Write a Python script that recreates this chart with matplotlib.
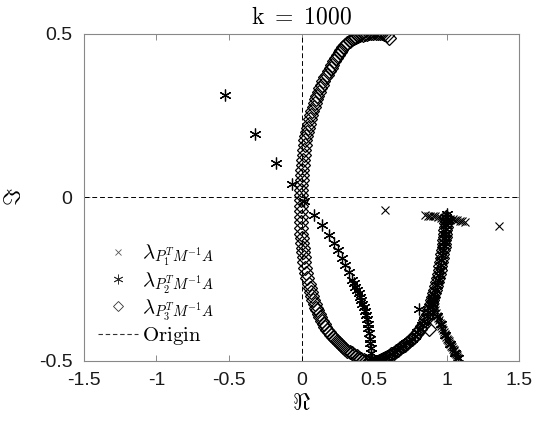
import matplotlib
matplotlib.use("Agg")
import matplotlib.pyplot as plt
from matplotlib.lines import Line2D

plt.rcParams['font.family'] = ['Liberation Sans', 'DejaVu Sans']
plt.rcParams['mathtext.fontset'] = 'cm'

# eigenvalues of P1^T M^-1 A (real, imag)
p1_re = [0.576, 0.852, 0.870, 0.886, 0.905, 0.921, 0.940, 0.960, 0.980, 1.000, 1.020,
         1.040, 1.055, 1.070, 1.088, 1.105, 1.127, 1.357,
         0.900, 0.905, 0.910, 0.915, 0.920, 0.926, 0.932, 0.938, 0.945, 0.951, 0.957,
         0.962, 0.967, 0.972, 0.978, 0.984, 0.990, 0.996, 1.002, 1.008, 1.013, 1.018,
         1.024, 1.030, 1.035, 1.040, 1.046, 1.052, 1.057, 1.062, 1.068, 1.073, 1.078]
p1_im = [-0.038, -0.055, -0.056, -0.057, -0.058, -0.058, -0.060, -0.062, -0.063, -0.064, -0.066,
         -0.068, -0.069, -0.070, -0.072, -0.072, -0.075, -0.089,
         -0.310, -0.319, -0.328, -0.336, -0.345, -0.354, -0.362, -0.369, -0.376, -0.383, -0.389,
         -0.395, -0.400, -0.405, -0.411, -0.417, -0.422, -0.428, -0.433, -0.437, -0.441, -0.445,
         -0.450, -0.455, -0.459, -0.463, -0.467, -0.471, -0.475, -0.479, -0.483, -0.487, -0.490]

# eigenvalues of P2^T M^-1 A
p2_re = [-0.525, -0.319, -0.175, -0.066, 0.014, 0.083, 0.140, 0.186, 0.220, 0.248, 0.278,
         0.301, 0.324, 0.347, 0.358, 0.370, 0.382, 0.393, 0.402, 0.411, 0.419, 0.427, 0.435,
         0.443, 0.449, 0.455, 0.460, 0.464, 0.469, 0.473, 0.477, 0.480, 0.484, 0.487,
         0.806,
         0.505, 0.520, 0.540, 0.560, 0.580, 0.600, 0.620, 0.640, 0.660, 0.680, 0.700, 0.720,
         0.740, 0.760, 0.778, 0.795, 0.812, 0.830, 0.845, 0.860, 0.873, 0.886, 0.896, 0.905,
         0.913, 0.921, 0.929, 0.936, 0.944, 0.951, 0.957, 0.963, 0.969, 0.974, 0.978, 0.982,
         0.985, 0.988, 0.991, 0.993, 0.995, 0.997, 0.998,
         0.905, 0.932, 0.957, 0.990, 1.024, 1.057, 1.078]
p2_im = [0.314, 0.192, 0.105, 0.039, -0.011, -0.055, -0.085, -0.114, -0.141, -0.162, -0.187,
         -0.208, -0.228, -0.253, -0.263, -0.274, -0.284, -0.294, -0.304, -0.314, -0.325, -0.335, -0.347,
         -0.360, -0.373, -0.386, -0.401, -0.416, -0.432, -0.447, -0.462, -0.477, -0.492, -0.505,
         -0.343,
         -0.505, -0.502, -0.498, -0.494, -0.489, -0.484, -0.479, -0.473, -0.468, -0.462, -0.455, -0.447,
         -0.440, -0.432, -0.423, -0.413, -0.403, -0.392, -0.378, -0.364, -0.350, -0.335, -0.323, -0.310,
         -0.297, -0.284, -0.269, -0.254, -0.238, -0.223, -0.207, -0.192, -0.177, -0.162, -0.149, -0.136,
         -0.124, -0.111, -0.098, -0.086, -0.073, -0.060, -0.050,
         -0.318, -0.362, -0.389, -0.422, -0.450, -0.475, -0.490]

# eigenvalues of P3^T M^-1 A
p3_re = [0.600, 0.585, 0.570, 0.555, 0.540, 0.525, 0.510, 0.495, 0.480, 0.465, 0.450,
         0.435, 0.420, 0.405, 0.390, 0.375, 0.360, 0.345, 0.330, 0.315, 0.300, 0.287,
         0.274, 0.261, 0.248, 0.236, 0.224, 0.212, 0.200, 0.189, 0.178, 0.163, 0.150,
         0.139, 0.128, 0.117, 0.108, 0.100, 0.091, 0.083, 0.074, 0.065, 0.056, 0.048,
         0.042, 0.036, 0.030, 0.025, 0.021, 0.017, 0.014, 0.010, 0.007, 0.005, 0.002,
         0.000, -0.001, -0.001, -0.002, -0.002, -0.003, -0.003, -0.003, -0.003, -0.002,
         -0.002, 0.001, 0.004, 0.007, 0.010, 0.014, 0.019, 0.025, 0.031, 0.039, 0.048,
         0.055, 0.063, 0.072, 0.081, 0.091, 0.100, 0.106, 0.117, 0.128, 0.139, 0.151,
         0.163, 0.175, 0.188, 0.201, 0.214, 0.228, 0.241, 0.255, 0.270, 0.285, 0.301,
         0.316, 0.332, 0.347, 0.363, 0.379, 0.395, 0.411, 0.427, 0.442, 0.456, 0.471,
         0.485,
         0.500, 0.515, 0.530, 0.545, 0.560, 0.574, 0.588, 0.603, 0.618, 0.634, 0.649,
         0.665, 0.680, 0.695, 0.711, 0.726, 0.741, 0.757, 0.772, 0.786, 0.800, 0.813,
         0.827, 0.840, 0.850, 0.859, 0.868, 0.877, 0.886, 0.893, 0.900, 0.907, 0.914,
         0.921, 0.927, 0.933, 0.939, 0.945, 0.951, 0.956, 0.961, 0.965, 0.970, 0.974,
         0.977, 0.980, 0.982, 0.985, 0.988, 0.990, 0.992, 0.994, 0.996, 0.997,
         0.875]
p3_im = [0.488, 0.495, 0.499, 0.501, 0.502, 0.502, 0.502, 0.502, 0.501, 0.501, 0.500,
         0.499, 0.497, 0.495, 0.493, 0.490, 0.487, 0.483, 0.478, 0.472, 0.466, 0.459,
         0.451, 0.443, 0.434, 0.425, 0.415, 0.405, 0.395, 0.385, 0.374, 0.367, 0.355,
         0.344, 0.333, 0.322, 0.310, 0.299, 0.287, 0.276, 0.263, 0.250, 0.238, 0.225,
         0.212, 0.199, 0.187, 0.174, 0.159, 0.144, 0.128, 0.113, 0.098, 0.083, 0.067,
         0.052, 0.037, 0.022, 0.006, -0.009, -0.026, -0.043, -0.060, -0.077, -0.094,
         -0.111, -0.125, -0.140, -0.154, -0.168, -0.182, -0.198, -0.215, -0.232, -0.248, -0.264,
         -0.277, -0.290, -0.303, -0.315, -0.327, -0.339, -0.345, -0.356, -0.366, -0.377, -0.387,
         -0.396, -0.406, -0.413, -0.421, -0.428, -0.434, -0.441, -0.447, -0.453, -0.459, -0.464,
         -0.469, -0.473, -0.477, -0.482, -0.486, -0.490, -0.494, -0.498, -0.501, -0.503, -0.505,
         -0.506,
         -0.506, -0.504, -0.501, -0.498, -0.495, -0.492, -0.488, -0.484, -0.480, -0.476, -0.471,
         -0.467, -0.462, -0.456, -0.451, -0.445, -0.439, -0.433, -0.427, -0.419, -0.411, -0.403,
         -0.394, -0.386, -0.376, -0.366, -0.356, -0.345, -0.335, -0.325, -0.315, -0.305, -0.294,
         -0.284, -0.272, -0.260, -0.247, -0.235, -0.223, -0.211, -0.199, -0.186, -0.174, -0.162,
         -0.152, -0.142, -0.131, -0.121, -0.111, -0.101, -0.091, -0.080, -0.070, -0.060,
         -0.404]

labels = [r'$\lambda_{P_1^T M^{-1} A}$', r'$\lambda_{P_2^T M^{-1} A}$',
          r'$\lambda_{P_3^T M^{-1} A}$', r'$\mathrm{Origin}$']

fig = plt.figure(figsize=(5.4, 4.21), dpi=100)
ax = fig.add_axes([0.155, 0.143, 0.807, 0.777])

ax.plot(p3_re, p3_im, linestyle='none', marker='D', ms=7.5, mew=0.9, mfc='none', mec='k')
ax.plot(p2_re, p2_im, linestyle='none', marker=(6, 2, 0), ms=8.5, mew=0.9, color='k')
ax.plot(p1_re, p1_im, linestyle='none', marker='x', ms=6, mew=0.8, color='k')
ax.axhline(0, color='k', ls='--', lw=0.7, dashes=(5, 3))
ax.axvline(0, color='k', ls='--', lw=0.7, dashes=(5, 3))

ax.set_xlim(-1.5, 1.5)
ax.set_ylim(-0.5, 0.5)
ax.set_xticks([-1.5, -1, -0.5, 0, 0.5, 1, 1.5])
ax.set_xticklabels(['-1.5', '-1', '-0.5', '0', '0.5', '1', '1.5'])
ax.set_yticks([-0.5, 0, 0.5])
ax.set_yticklabels(['-0.5', '0', '0.5'])
ax.tick_params(direction='in', top=True, right=True, length=4, width=0.6, pad=8,
               colors='#777777', labelcolor='#1a1a1a', labelsize=14)
for s in ax.spines.values():
    s.set_color('#888888')
    s.set_linewidth(0.8)

ax.set_title(r'$\mathrm{k}\ =\ 1000$', fontsize=17, pad=7)
ax.set_xlabel(r'$\Re$', fontsize=17, labelpad=2)
ax.set_ylabel(r'$\Im$', fontsize=17, labelpad=10)

handles = [Line2D([], [], ls='none', marker='x', ms=5, mew=0.6, color='#555555'),
           Line2D([], [], ls='none', marker=(6, 2, 0), ms=7, mew=0.6, color='#333333'),
           Line2D([], [], ls='none', marker='D', ms=5, mew=0.6, mfc='none', mec='#333333'),
           Line2D([], [], ls='--', lw=0.8, color='#333333', dashes=(4, 2.5))]
ax.legend(handles, labels, loc='upper left', bbox_to_anchor=(0.0, 0.405), frameon=False,
          fontsize=15, handlelength=1.9, handletextpad=0.2, labelspacing=0.1, borderaxespad=0.3)

fig.savefig('out.png', dpi=100)
